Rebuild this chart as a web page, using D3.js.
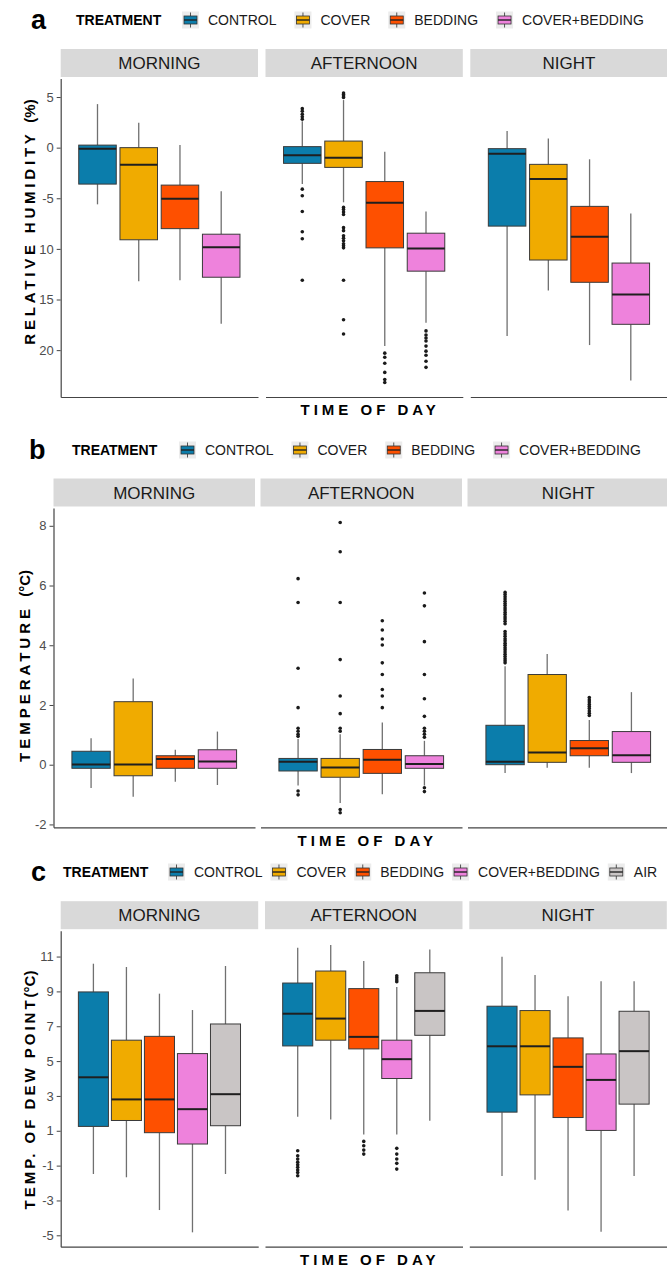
<!DOCTYPE html>
<html>
<head>
<meta charset="utf-8">
<script src="https://cdn.jsdelivr.net/npm/d3@7"></script>
<style>
  html, body { margin: 0; padding: 0; background: #fff; }
  svg { display: block; font-family: "Liberation Sans", Arial, sans-serif; }
</style>
</head>
<body>
<svg id="fig" width="667" height="1267"></svg>
<script>
// ---------------- data ----------------
const timesOfDay = ["MORNING", "AFTERNOON", "NIGHT"];
const treatments4 = ["CONTROL", "COVER", "BEDDING", "COVER+BEDDING"];
const treatments5 = ["CONTROL", "COVER", "BEDDING", "COVER+BEDDING", "AIR"];

// each box: [lower whisker, Q1, median, Q3, upper whisker]
// a) relative humidity difference (%)
const rhMorning   = [[-5.6, -3.6, -0.1, 0.25, 4.3], [-13.2, -9.1, -1.7, 0.0, 2.45], [-13.1, -8.0, -5.05, -3.7, 0.25], [-17.4, -12.8, -9.85, -8.55, -4.3]];
const rhAfternoon = [[-3.6, -1.55, -0.75, 0.1, 2.6], [-5.4, -1.95, -1.0, 0.65, 4.7], [-19.6, -9.9, -5.45, -3.35, -0.4], [-17.3, -12.2, -9.95, -8.45, -6.3]];
const rhNight     = [[-18.6, -7.75, -0.6, -0.1, 1.65], [-14.1, -11.1, -3.1, -1.65, 0.9], [-19.5, -13.3, -8.8, -5.8, -1.15], [-23.0, -17.45, -14.5, -11.4, -6.5]];
const rhOutMorning = [[], [], [], []];
const rhOutAfternoon = [
  [3.85, 3.6, 3.3, 3.05, 2.8, -4.1, -4.75, -6.3, -8.3, -9.0, -13.1],
  [5.4, 5.25, 5.1, 4.95, -5.9, -6.1, -6.35, -6.6, -7.9, -8.2, -8.7, -8.95, -9.2, -9.5, -9.7, -9.9, -13.1, -17.0, -18.4],
  [-20.3, -20.7, -21.3, -22.2, -22.9, -23.2],
  [-18.1, -18.5, -18.8, -19.1, -19.6, -20.1, -20.5, -21.1, -21.7]
];
const rhOutNight = [[], [], [], []];
const rhTicks = [5, 0, -5, -10, -15, -20];
const rhTickLabels = ["5", "0", "-5", "10", "15", "20"];

// b) temperature difference (°C)
const tMorning   = [[-0.78, -0.12, 0.01, 0.45, 0.89], [-1.07, -0.37, 0.01, 2.11, 2.89], [-0.57, -0.12, 0.19, 0.3, 0.5], [-0.68, -0.12, 0.11, 0.5, 1.11]];
const tAfternoon = [[-0.7, -0.21, 0.1, 0.21, 0.86], [-1.28, -0.42, -0.09, 0.21, 1.02], [-0.99, -0.29, 0.17, 0.51, 1.41], [-0.7, -0.12, 0.02, 0.3, 0.8]];
const tNight     = [[-0.28, 0.0, 0.1, 1.32, 3.3], [-0.1, 0.08, 0.41, 3.02, 3.71], [-0.1, 0.3, 0.55, 0.81, 1.5], [-0.28, 0.08, 0.32, 1.11, 2.43]];
const tOutMorning = [[], [], [], []];
const tOutAfternoon = [
  [6.23, 5.43, 3.23, 1.91, 1.22, 1.12, 1.02, 0.95, -0.88, -1.01],
  [8.11, 7.13, 5.43, 3.52, 2.3, 1.71, 1.22, 1.12, -1.5, -1.61],
  [4.82, 4.51, 4.21, 4.01, 3.41, 3.02, 2.52, 2.3, 1.91],
  [5.75, 5.32, 4.12, 3.02, 2.21, 1.62, 1.22, 1.12, 1.02, 0.92, -0.77, -0.9]
];
const tOutNight = [
  [5.77, 5.7, 5.62, 5.55, 5.47, 5.4, 5.33, 5.25, 5.18, 5.1, 5.03, 4.95, 4.88, 4.8, 4.72,
   4.46, 4.38, 4.3, 4.22, 4.15, 4.07, 4.0, 3.92, 3.85, 3.77, 3.7, 3.62, 3.55, 3.48, 3.41],
  [],
  [2.25, 2.17, 2.1, 2.02, 1.95, 1.88, 1.8, 1.72, 1.65],
  []
];
const tTicks = [8, 6, 4, 2, 0, -2];
const tTickLabels = ["8", "6", "4", "2", "0", "-2"];

// c) dew point temperature (°C)
const dpMorning   = [[-1.48, 1.25, 4.07, 8.97, 10.59], [-1.67, 1.59, 2.8, 6.2, 10.4], [-3.55, 0.89, 2.8, 6.42, 8.87], [-4.83, 0.24, 2.24, 5.43, 7.93], [-1.48, 1.29, 3.1, 7.13, 10.46]];
const dpAfternoon = [[1.8, 5.87, 7.72, 9.48, 11.5], [1.65, 6.2, 7.44, 10.17, 11.66], [0.79, 5.7, 6.39, 9.16, 10.74], [0.79, 4.0, 5.11, 6.2, 9.25], [1.57, 6.48, 7.88, 10.07, 11.41]];
const dpNight     = [[-1.6, 2.07, 5.85, 8.15, 10.99], [-1.81, 3.06, 5.85, 7.9, 9.94], [-3.57, 1.76, 4.67, 6.33, 8.72], [-4.79, 1.02, 3.92, 5.41, 9.58], [-1.6, 2.53, 5.57, 7.86, 9.58]];
const dpOutMorning = [[], [], [], [], []];
const dpOutAfternoon = [
  [-0.15, -0.43, -0.62, -0.8, -0.95, -1.1, -1.25, -1.4, -1.58],
  [],
  [0.39, 0.14, -0.11, -0.34],
  [9.9, 9.78, 9.66, 9.55, -0.01, -0.34, -0.62, -0.87, -1.2],
  []
];
const dpOutNight = [[], [], [], [], []];
const dpTicks = [11, 9, 7, 5, 3, 1, -1, -3, -5];
const dpTickLabels = ["11", "9", "7", "5", "3", "1", "-1", "-3", "-5"];

// ---------------- drawing ----------------
const svg = d3.select("#fig");
const color = d3.scaleOrdinal()
  .domain(treatments5)
  .range(["#0b7dab", "#f0ab00", "#fe5000", "#ee82dc", "#c9c5c5"]);

const FONT = "'Liberation Sans', Arial, sans-serif";

function drawLegendKey(g, x, yc, fill) {
  const k = g.append("g").attr("transform", `translate(${x},${yc - 8.5})`);
  k.append("rect").attr("width", 17).attr("height", 17).attr("fill", "#ececec");
  k.append("line").attr("x1", 8.5).attr("x2", 8.5).attr("y1", 1).attr("y2", 16)
    .attr("stroke", "#555").attr("stroke-width", 1);
  k.append("rect").attr("x", 2).attr("y", 4.5).attr("width", 13).attr("height", 8)
    .attr("fill", fill).attr("stroke", "#333").attr("stroke-width", 0.8);
  k.append("line").attr("x1", 2).attr("x2", 15).attr("y1", 8.5).attr("y2", 8.5)
    .attr("stroke", "#222").attr("stroke-width", 1.4);
}

function drawFigure(spec) {
  const root = svg.append("g");

  // panel letter
  root.append("text")
    .attr("x", spec.letterX).attr("y", spec.legendY).attr("dy", "0.35em")
    .attr("font-size", 27).attr("font-weight", "bold").attr("fill", "#000")
    .text(spec.letter);

  // legend
  root.append("text")
    .attr("x", spec.legendTitleX).attr("y", spec.legendY).attr("dy", "0.35em")
    .attr("font-size", 14).attr("font-weight", "bold").attr("fill", "#000")
    .text("TREATMENT");
  let lx = spec.legendKeyX;
  spec.treatments.forEach(tr => {
    drawLegendKey(root, lx, spec.legendY, color(tr));
    const t = root.append("text")
      .attr("x", lx + 17 + 9).attr("y", spec.legendY).attr("dy", "0.35em")
      .attr("font-size", 14).attr("fill", "#1a1a1a").text(tr);
    lx += 17 + 9 + t.node().getComputedTextLength() + spec.legendGap;
  });

  // scales
  const all = [];
  spec.stats.forEach(per => per.forEach(s => all.push(s[0], s[4])));
  spec.outliers.forEach(per => per.forEach(o => all.push(...o)));
  const [lo, hi] = d3.extent(all);
  const pad = (hi - lo) * 0.05;
  const y = d3.scaleLinear().domain([lo - pad, hi + pad]).range([spec.panelBottom, spec.panelTop]);

  const facet = d3.scaleBand()
    .domain(timesOfDay)
    .range([spec.x0, spec.x0 + 3 * spec.panelW + 2 * spec.gap])
    .paddingInner(spec.gap / (spec.panelW + spec.gap))
    .paddingOuter(0);
  const bw = facet.bandwidth();
  const groupW = bw * 0.836;
  const inner = d3.scaleBand()
    .domain(spec.treatments)
    .range([bw / 2 - groupW / 2, bw / 2 + groupW / 2])
    .paddingInner(0.09).paddingOuter(0.045);

  const stripH = 28;
  timesOfDay.forEach((tod, ti) => {
    const px = facet(tod);
    const pg = root.append("g").attr("transform", `translate(${px},0)`);

    // strip
    pg.append("rect")
      .attr("x", 0).attr("y", spec.panelTop - 1.5 - stripH)
      .attr("width", bw).attr("height", stripH).attr("fill", "#d9d9d9");
    pg.append("text")
      .attr("x", bw / 2).attr("y", spec.panelTop - 1.5 - stripH / 2).attr("dy", "0.36em")
      .attr("text-anchor", "middle").attr("font-size", 17).attr("fill", "#1a1a1a")
      .text(tod);

    // x axis line (no tick labels)
    const xa = pg.append("g").attr("transform", `translate(0,${spec.panelBottom})`)
      .call(d3.axisBottom(d3.scaleLinear().range([0, bw])).tickValues([]).tickSizeOuter(0));
    xa.select(".domain").attr("stroke", "#444").attr("stroke-width", 1.2);

    // boxes
    spec.treatments.forEach((tr, i) => {
      const s = spec.stats[ti][i];
      const cx = inner(tr) + inner.bandwidth() / 2;
      const w = inner.bandwidth();
      const b = pg.append("g");
      b.append("line").attr("x1", cx).attr("x2", cx).attr("y1", y(s[4])).attr("y2", y(s[3]))
        .attr("stroke", "#707070").attr("stroke-width", 1.3);
      b.append("line").attr("x1", cx).attr("x2", cx).attr("y1", y(s[1])).attr("y2", y(s[0]))
        .attr("stroke", "#707070").attr("stroke-width", 1.3);
      b.append("rect").attr("x", cx - w / 2).attr("y", y(s[3]))
        .attr("width", w).attr("height", y(s[1]) - y(s[3]))
        .attr("fill", color(tr)).attr("stroke", "#3a3a3a").attr("stroke-width", 1);
      b.append("line").attr("x1", cx - w / 2).attr("x2", cx + w / 2)
        .attr("y1", y(s[2])).attr("y2", y(s[2]))
        .attr("stroke", "#1f1f1f").attr("stroke-width", 2);
      b.selectAll("circle.out").data(spec.outliers[ti][i]).join("circle")
        .attr("class", "out").attr("cx", cx).attr("cy", d => y(d)).attr("r", 1.8)
        .attr("fill", "#1a1a1a");
    });
  });

  // y axis (first panel only)
  const ya = root.append("g").attr("transform", `translate(${spec.x0},0)`)
    .call(d3.axisLeft(y).tickValues(spec.ticks)
      .tickFormat((d, i) => spec.tickLabels[i]).tickSize(4).tickSizeOuter(0).tickPadding(3));
  ya.select(".domain").attr("stroke", "#444").attr("stroke-width", 1.2);
  ya.selectAll(".tick line").attr("stroke", "#444");
  ya.selectAll(".tick text").attr("font-size", 13).attr("fill", "#4d4d4d").attr("font-family", FONT);

  // axis titles
  const plotRight = spec.x0 + 3 * spec.panelW + 2 * spec.gap;
  root.append("text")
    .attr("x", (spec.x0 + plotRight) / 2 + 6).attr("y", spec.panelBottom + 13).attr("dy", "0.35em")
    .attr("text-anchor", "middle").attr("font-size", 15).attr("font-weight", "bold")
    .attr("letter-spacing", 4).attr("fill", "#000")
    .text("TIME OF DAY");

  const yt = root.append("text")
    .attr("transform", `translate(${spec.yTitleX},${spec.yTitleY}) rotate(-90)`)
    .attr("text-anchor", "middle").attr("dy", "0.35em")
    .attr("font-size", 15).attr("font-weight", "bold").attr("fill", "#000");
  yt.append("tspan").attr("letter-spacing", spec.yTitleLs).text(spec.yTitleSpaced);
  yt.append("tspan").text(spec.yTitlePlain);
}

drawFigure({
  letter: "a", letterX: 31, legendY: 20, legendTitleX: 76, legendKeyX: 182, legendGap: 18,
  treatments: treatments4,
  stats: [rhMorning, rhAfternoon, rhNight],
  outliers: [rhOutMorning, rhOutAfternoon, rhOutNight],
  ticks: rhTicks, tickLabels: rhTickLabels,
  x0: 60.7, panelW: 197.3, gap: 7.5, panelTop: 78.5, panelBottom: 397,
  yTitleX: 30, yTitleY: 222, yTitleLs: 3.8,
  yTitleSpaced: "RELATIVE HUMIDITY ", yTitlePlain: "(%)"
});

drawFigure({
  letter: "b", letterX: 29, legendY: 450, legendTitleX: 72, legendKeyX: 179, legendGap: 18,
  treatments: treatments4,
  stats: [tMorning, tAfternoon, tNight],
  outliers: [tOutMorning, tOutAfternoon, tOutNight],
  ticks: tTicks, tickLabels: tTickLabels,
  x0: 53.5, panelW: 201.5, gap: 5.5, panelTop: 508, panelBottom: 827.3,
  yTitleX: 25, yTitleY: 666, yTitleLs: 4,
  yTitleSpaced: "TEMPERATURE ", yTitlePlain: "(°C)"
});

drawFigure({
  letter: "c", letterX: 31, legendY: 872, legendTitleX: 63, legendKeyX: 168, legendGap: 8,
  treatments: treatments5,
  stats: [dpMorning, dpAfternoon, dpNight],
  outliers: [dpOutMorning, dpOutAfternoon, dpOutNight],
  ticks: dpTicks, tickLabels: dpTickLabels,
  x0: 60.7, panelW: 197.5, gap: 6.8, panelTop: 930.7, panelBottom: 1246.7,
  yTitleX: 30, yTitleY: 1090, yTitleLs: 3,
  yTitleSpaced: "TEMP. OF DEW POINT", yTitlePlain: "(°C)"
});
</script>
</body>
</html>
